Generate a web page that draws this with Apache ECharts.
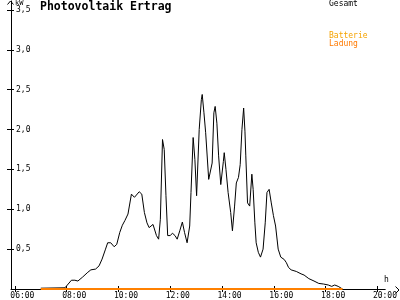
<!DOCTYPE html>
<html>
<head>
<meta charset="utf-8">
<script src="https://cdn.jsdelivr.net/npm/echarts@6/dist/echarts.min.js"></script>
<style>html,body{margin:0;padding:0;background:#fff}#c{width:400px;height:300px}</style>
</head>
<body>
<div id="c"></div>
<script>
// ---- data ----
const gesamtTimes = ["07:00","07:56","08:00","08:11","08:19","08:26","08:37","08:49","08:56","09:07",
  "09:15","09:22","09:30","09:35","09:42","09:50","09:56","10:03","10:09","10:15",
  "10:22","10:30","10:37","10:41","10:48","10:54","11:00","11:06","11:11","11:15",
  "11:20","11:24","11:28","11:33","11:37","11:42","11:46","11:50","11:54","12:00",
  "12:05","12:11","12:16","12:22","12:28","12:33","12:39","12:45","12:48","12:53",
  "12:57","13:01","13:03","13:07","13:12","13:14","13:18","13:22","13:29","13:33",
  "13:37","13:41","13:44","13:48","13:52","13:57","14:01","14:03","14:05","14:09",
  "14:14","14:20","14:24","14:29","14:33","14:38","14:42","14:46","14:50","14:53",
  "14:55","14:59","15:04","15:09","15:12","15:16","15:19","15:24","15:29","15:35",
  "15:40","15:44","15:49","15:54","15:59","16:04","16:10","16:16","16:24","16:29",
  "16:34","16:40","16:52","17:03","17:10","17:21","17:33","17:44","17:55","18:06",
  "18:14","18:21","18:29","18:36","18:39"];
const gesamtValues = [0.01,0.015,0.04,0.11,0.11,0.10,0.15,0.21,0.24,0.25,
  0.29,0.375,0.5,0.58,0.58,0.53,0.56,0.71,0.80,0.86,
  0.94,1.19,1.15,1.17,1.22,1.19,0.96,0.83,0.77,0.75,
  0.81,0.79,0.67,0.625,0.875,1.875,1.75,1.17,0.67,0.67,
  0.70,0.67,0.625,0.73,0.84,0.71,0.58,0.79,1.21,1.90,
  1.625,1.17,1.15,2.0,2.375,2.44,2.21,1.96,1.375,1.375,
  1.58,2.21,2.29,2.08,1.67,1.31,1.31,1.6,1.71,1.5,
  1.21,0.96,0.73,1.04,1.33,1.40,1.56,2.0,2.27,1.98,
  1.67,1.08,1.04,1.44,1.25,0.83,0.58,0.46,0.40,0.5,
  0.83,1.21,1.25,1.08,0.92,0.79,0.5,0.40,0.37,0.33,
  0.27,0.24,0.22,0.19,0.175,0.13,0.10,0.07,0.0625,0.05,
  0.033,0.05,0.033,0.01,0];
const ladungTimes = ["07:00","18:39"];
const ladungValues = [0,0];
const xTickHours = [6,8,10,12,14,16,18,20];
const yTickValues = [0.5,1.0,1.5,2.0,2.5,3.0,3.5];
const titleText = "Photovoltaik Ertrag";
const legendNames = ["Gesamt","Batterie","Ladung"];

// ---- helpers ----
function toHours(t){const p=t.split(':');return +p[0]+(+p[1])/60;}
function pairs(ts,vs){return ts.map((t,i)=>[toHours(t),vs[i]]);}
function fmtHour(v){return (v<10?'0':'')+Math.round(v)+':00';}
function fmtY(v){return v.toFixed(1).replace('.',',');}

const FONT = 'DejaVu Sans Mono';
const chart = echarts.init(document.getElementById('c'), null, {renderer:'canvas'});
const black = '#000';
const option = {
  animation:false,
  backgroundColor:'#fff',
  grid:{left:11,right:3,top:1,bottom:10},
  xAxis:[
    {type:'value',min:5.85,max:20.3,position:'bottom',
     axisLine:{show:true,lineStyle:{color:black,width:1}},
     splitLine:{show:false},
     axisTick:{show:true,customValues:xTickHours,length:3,inside:false,lineStyle:{color:black}},
     axisLabel:{show:true,customValues:xTickHours,formatter:fmtHour,fontFamily:FONT,fontSize:8,color:black,
       margin:3,align:'center',padding:[0,0,0,15]}},
    {type:'value',min:5.85,max:20.3,position:'bottom',
     axisLine:{show:false},splitLine:{show:false},
     axisTick:{show:true,customValues:xTickHours,length:3,inside:true,lineStyle:{color:black}},
     axisLabel:{show:false}}
  ],
  yAxis:[
    {type:'value',min:0,max:3.6125,position:'left',
     axisLine:{show:true,lineStyle:{color:black,width:1}},
     splitLine:{show:false},
     axisTick:{show:true,customValues:yTickValues,length:4,inside:false,lineStyle:{color:black}},
     axisLabel:{show:true,customValues:yTickValues,inside:true,formatter:fmtY,fontFamily:FONT,fontSize:8,color:black,margin:5}},
    {type:'value',min:0,max:3.6125,position:'left',
     axisLine:{show:false},splitLine:{show:false},
     axisTick:{show:true,customValues:yTickValues,length:3,inside:true,lineStyle:{color:black}},
     axisLabel:{show:false}}
  ],
  series:[
    {name:legendNames[0],type:'line',data:pairs(gesamtTimes,gesamtValues),showSymbol:false,
     lineStyle:{color:black,width:1},itemStyle:{color:black},z:3},
    {name:legendNames[2],type:'line',data:pairs(ladungTimes,ladungValues),showSymbol:false,
     lineStyle:{color:'#ff8000',width:2},itemStyle:{color:'#ff8000'},z:4}
  ],
  graphic:[
    {type:'text',left:40,top:1,style:{text:titleText,font:'bold 11.5px '+FONT,fill:black}},
    {type:'text',left:329,top:0,style:{text:legendNames[0],font:'8px '+FONT,fill:black}},
    {type:'text',left:329,top:32,style:{text:legendNames[1],font:'8px '+FONT,fill:'#f5a300'}},
    {type:'text',left:329,top:40,style:{text:legendNames[2],font:'8px '+FONT,fill:'#ff7a00'}},
    {type:'text',left:15,top:0,style:{text:'kW',font:'7px '+FONT,fill:black}},
    {type:'text',left:384,top:276,style:{text:'h',font:'8px '+FONT,fill:black}},
    {type:'polyline',shape:{points:[[7.5,4.5],[10.5,1],[13.5,4.5]]},style:{stroke:black,lineWidth:1,fill:null}},
    {type:'polyline',shape:{points:[[395.5,286.5],[399,290],[395.5,293.5]]},style:{stroke:black,lineWidth:1,fill:null}}
  ]
};
chart.setOption(option);
</script>
</body>
</html>
